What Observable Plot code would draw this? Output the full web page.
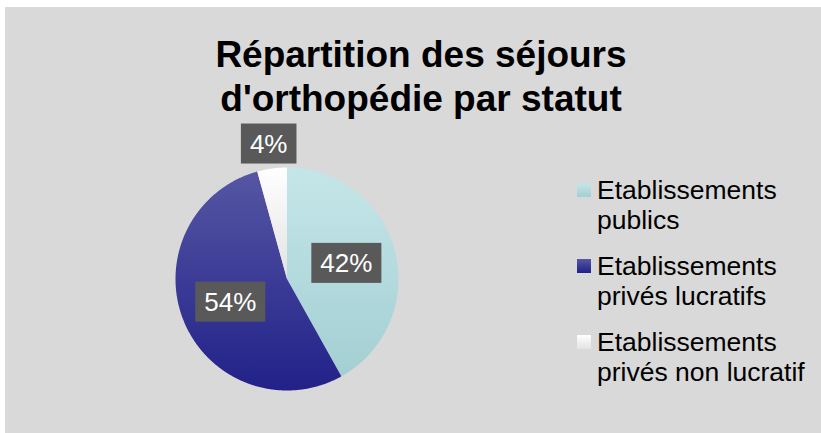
<!DOCTYPE html>
<html>
<head>
<meta charset="utf-8">
<script src="https://cdn.jsdelivr.net/npm/d3@7"></script>
<script src="https://cdn.jsdelivr.net/npm/@observablehq/plot@0.6"></script>
<style>
  html, body { margin: 0; padding: 0; background: #ffffff; }
  #wrap { position: relative; width: 821px; height: 433px; overflow: hidden; font-family: "Liberation Sans", Arial, sans-serif; }
  #bg { position: absolute; left: 5px; top: 7px; right: 0; bottom: 0; background: #d9d9d9; }
  #title { position: absolute; left: 0; width: 842px; top: 33px; text-align: center; font-weight: bold; font-size: 37px; line-height: 44px; color: #000; }
  #chart { position: absolute; left: 0; top: 0; }
  .leg { position: absolute; left: 577px; font-size: 26.5px; line-height: 30px; color: #000; }
  .leg .sw { position: absolute; left: 0; top: 8px; width: 14px; height: 14px; }
  .leg .tx { position: absolute; left: 20px; top: 0; white-space: nowrap; }
</style>
</head>
<body>
<div id="wrap">
  <div id="bg"></div>
  <div id="title">Répartition des séjours<br>d'orthopédie par statut</div>
  <div id="chart"></div>
  <div id="legend"></div>
</div>
<script>
// ---- data ----
const categories = ["Etablissements publics", "Etablissements privés lucratifs", "Etablissements privés non lucratif"];
const legendLines = [["Etablissements", "publics"], ["Etablissements", "privés lucratifs"], ["Etablissements", "privés non lucratif"]];
const shares = [41.9, 53.8, 4.3];
const gradTop = ["#c5e6e9", "#5656a4", "#ffffff"];
const gradBottom = ["#a3cfd3", "#212189", "#e2e2e2"];

// ---- geometry from data ----
const data = categories.map((c, i) => ({category: c, value: shares[i], i}));
const arcs = d3.pie().sort(null).value(d => d.value).startAngle(0).endAngle(2 * Math.PI)(data);

const slicePoints = arcs.map(a => {
  const pts = [{x: 0, y: 0}];
  const n = Math.max(4, Math.ceil((a.endAngle - a.startAngle) / 0.01));
  for (let k = 0; k <= n; k++) {
    const t = a.startAngle + (a.endAngle - a.startAngle) * k / n;
    pts.push({x: Math.sin(t), y: Math.cos(t)});
  }
  pts.push({x: 0, y: 0});
  return pts;
});

const total = d3.sum(shares);
const labels = arcs.map(a => {
  const mid = (a.startAngle + a.endAngle) / 2;
  const frac = a.data.value / total;
  const r = frac < 0.1 ? 1.22 : 0.55;
  return {x: r * Math.sin(mid), y: r * Math.cos(mid), text: Math.round(a.data.value / total * 100) + "%"};
});

const marks = slicePoints.map((pts, i) =>
  Plot.line(pts, {x: "x", y: "y", fill: `url(#g${i})`, stroke: "none", curve: "linear"})
);
marks.push(Plot.text(labels, {x: "x", y: "y", text: "text", fill: "#ffffff", fontSize: 26, fontFamily: "Liberation Sans, Arial, sans-serif"}));

const chart = Plot.plot({
  width: 821,
  height: 433,
  margin: 0,
  style: {background: "transparent", overflow: "visible"},
  x: {domain: [-1, 1], range: [175, 398], axis: null},
  y: {domain: [-1, 1], range: [390, 167], axis: null},
  marks
});

// gradients
const svg = d3.select(chart);
const defs = svg.insert("defs", ":first-child");
gradTop.forEach((c, i) => {
  const g = defs.append("linearGradient").attr("id", "g" + i).attr("x1", 0).attr("y1", 0).attr("x2", 0).attr("y2", 1);
  g.append("stop").attr("offset", "0%").attr("stop-color", c);
  g.append("stop").attr("offset", "100%").attr("stop-color", gradBottom[i]);
});

document.getElementById("chart").appendChild(chart);

// label boxes behind text
svg.selectAll("g[aria-label='text'] text").each(function() {
  const b = this.getBBox();
  const r = d3.select(this.parentNode).insert("rect", () => this)
    .attr("x", b.x - 9).attr("width", b.width + 18).attr("height", 40)
    .attr("y", b.y + b.height / 2 - 20)
    .attr("fill", "#595959");
  const tr = this.getAttribute("transform");
  if (tr) r.attr("transform", tr);
});

// legend
const legend = document.getElementById("legend");
const tops = [175, 251, 327];
legendLines.forEach((lines, i) => {
  const item = document.createElement("div");
  item.className = "leg";
  item.style.top = tops[i] + "px";
  const sw = document.createElement("div");
  sw.className = "sw";
  sw.style.background = `linear-gradient(${gradTop[i]}, ${gradBottom[i]})`;
  const tx = document.createElement("div");
  tx.className = "tx";
  tx.innerHTML = lines.join("<br>");
  item.appendChild(sw);
  item.appendChild(tx);
  legend.appendChild(item);
});
</script>
</body>
</html>
